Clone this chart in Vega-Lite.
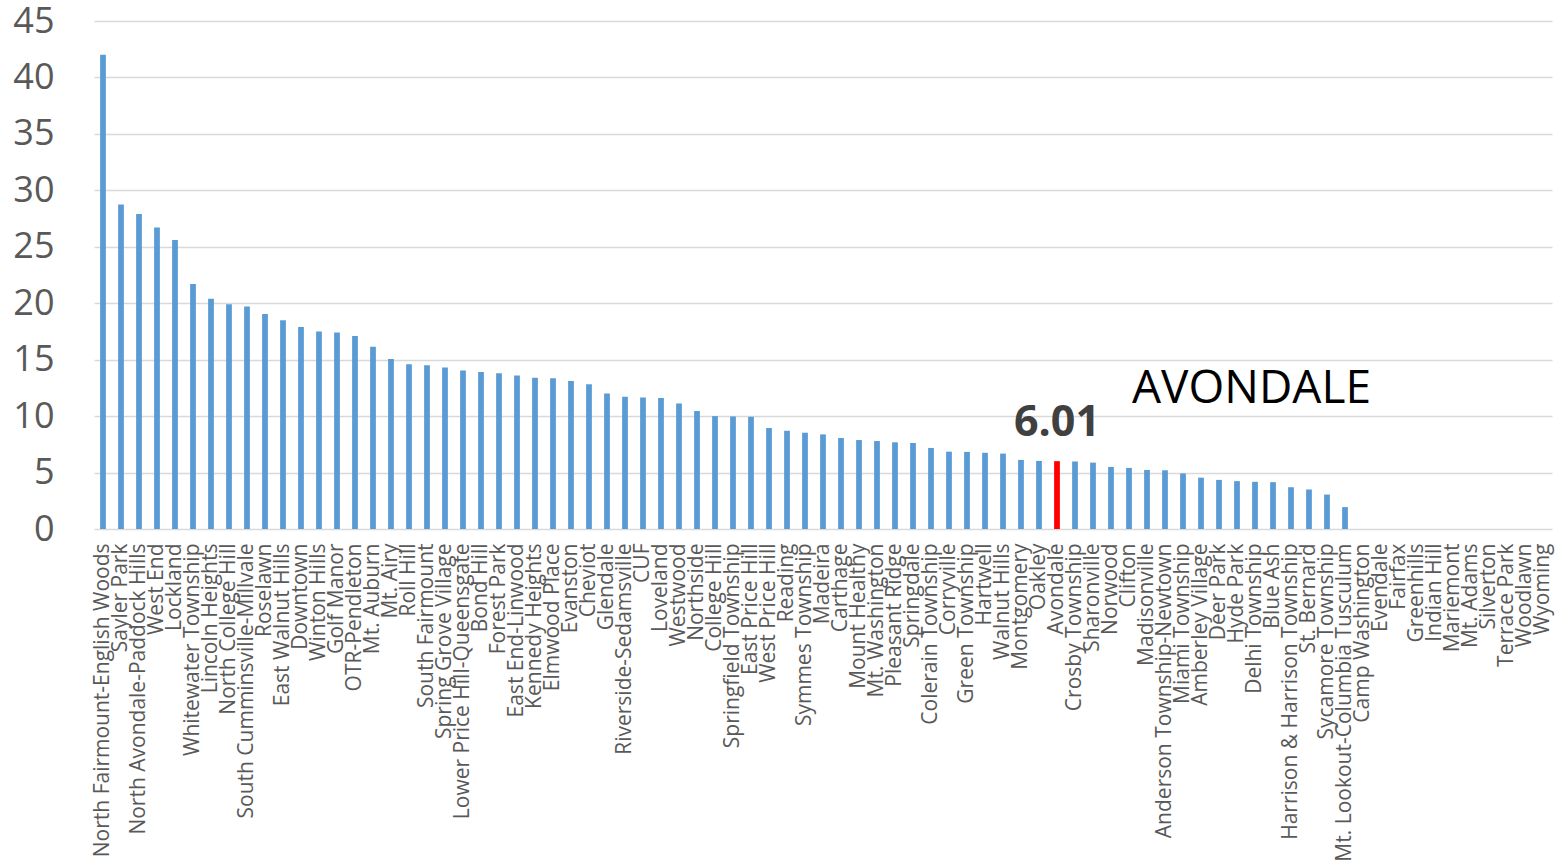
{
  "$schema": "https://vega.github.io/schema/vega-lite/v6.json",
  "width": 1458,
  "height": 508,
  "autosize": {"type": "none"},
  "padding": {"left": 94, "top": 21, "right": 16, "bottom": 336},
  "background": "white",
  "config": {
    "view": {"stroke": null},
    "font": "Open Sans"
  },
  "datasets": {
    "bars": [
      {"area": "North Fairmount-English Woods", "value": 42.0, "group": "other"},
      {"area": "Sayler Park", "value": 28.75, "group": "other"},
      {"area": "North Avondale-Paddock Hills", "value": 27.9, "group": "other"},
      {"area": "West End", "value": 26.7, "group": "other"},
      {"area": "Lockland", "value": 25.6, "group": "other"},
      {"area": "Whitewater Township", "value": 21.7, "group": "other"},
      {"area": "Lincoln Heights", "value": 20.4, "group": "other"},
      {"area": "North College Hill", "value": 19.9, "group": "other"},
      {"area": "South Cumminsville-Millvale", "value": 19.7, "group": "other"},
      {"area": "Roselawn", "value": 19.05, "group": "other"},
      {"area": "East Walnut Hills", "value": 18.5, "group": "other"},
      {"area": "Downtown", "value": 17.9, "group": "other"},
      {"area": "Winton Hills", "value": 17.5, "group": "other"},
      {"area": "Golf Manor", "value": 17.4, "group": "other"},
      {"area": "OTR-Pendleton", "value": 17.1, "group": "other"},
      {"area": "Mt. Auburn", "value": 16.15, "group": "other"},
      {"area": "Mt. Airy", "value": 15.05, "group": "other"},
      {"area": "Roll Hill", "value": 14.6, "group": "other"},
      {"area": "South Fairmount", "value": 14.5, "group": "other"},
      {"area": "Spring Grove Village", "value": 14.3, "group": "other"},
      {"area": "Lower Price Hill-Queensgate", "value": 14.05, "group": "other"},
      {"area": "Bond Hill", "value": 13.9, "group": "other"},
      {"area": "Forest Park", "value": 13.8, "group": "other"},
      {"area": "East End-Linwood", "value": 13.6, "group": "other"},
      {"area": "Kennedy Heights", "value": 13.4, "group": "other"},
      {"area": "Elmwood Place", "value": 13.35, "group": "other"},
      {"area": "Evanston", "value": 13.1, "group": "other"},
      {"area": "Cheviot", "value": 12.82, "group": "other"},
      {"area": "Glendale", "value": 12.0, "group": "other"},
      {"area": "Riverside-Sedamsville", "value": 11.72, "group": "other"},
      {"area": "CUF", "value": 11.65, "group": "other"},
      {"area": "Loveland", "value": 11.6, "group": "other"},
      {"area": "Westwood", "value": 11.12, "group": "other"},
      {"area": "Northside", "value": 10.45, "group": "other"},
      {"area": "College Hill", "value": 10.0, "group": "other"},
      {"area": "Springfield Township", "value": 9.97, "group": "other"},
      {"area": "East Price Hill", "value": 9.94, "group": "other"},
      {"area": "West Price Hill", "value": 8.95, "group": "other"},
      {"area": "Reading", "value": 8.7, "group": "other"},
      {"area": "Symmes Township", "value": 8.53, "group": "other"},
      {"area": "Madeira", "value": 8.38, "group": "other"},
      {"area": "Carthage", "value": 8.06, "group": "other"},
      {"area": "Mount Healthy", "value": 7.88, "group": "other"},
      {"area": "Mt. Washington", "value": 7.79, "group": "other"},
      {"area": "Pleasant Ridge", "value": 7.68, "group": "other"},
      {"area": "Springdale", "value": 7.62, "group": "other"},
      {"area": "Colerain Township", "value": 7.18, "group": "other"},
      {"area": "Corryville", "value": 6.85, "group": "other"},
      {"area": "Green Township", "value": 6.83, "group": "other"},
      {"area": "Hartwell", "value": 6.75, "group": "other"},
      {"area": "Walnut Hills", "value": 6.68, "group": "other"},
      {"area": "Montgomery", "value": 6.12, "group": "other"},
      {"area": "Oakley", "value": 6.03, "group": "other"},
      {"area": "Avondale", "value": 6.01, "group": "highlight"},
      {"area": "Crosby Township", "value": 5.98, "group": "other"},
      {"area": "Sharonville", "value": 5.88, "group": "other"},
      {"area": "Norwood", "value": 5.5, "group": "other"},
      {"area": "Clifton", "value": 5.41, "group": "other"},
      {"area": "Madisonville", "value": 5.23, "group": "other"},
      {"area": "Anderson Township-Newtown", "value": 5.2, "group": "other"},
      {"area": "Miami Township", "value": 4.92, "group": "other"},
      {"area": "Amberley Village", "value": 4.55, "group": "other"},
      {"area": "Deer Park", "value": 4.35, "group": "other"},
      {"area": "Hyde Park", "value": 4.24, "group": "other"},
      {"area": "Delhi Township", "value": 4.18, "group": "other"},
      {"area": "Blue Ash", "value": 4.15, "group": "other"},
      {"area": "Harrison & Harrison Township", "value": 3.7, "group": "other"},
      {"area": "St. Bernard", "value": 3.5, "group": "other"},
      {"area": "Sycamore Township", "value": 3.05, "group": "other"},
      {"area": "Mt. Lookout-Columbia Tusculum", "value": 1.94, "group": "other"},
      {"area": "Camp Washington", "value": 0, "group": "other"},
      {"area": "Evendale", "value": 0, "group": "other"},
      {"area": "Fairfax", "value": 0, "group": "other"},
      {"area": "Greenhills", "value": 0, "group": "other"},
      {"area": "Indian Hill", "value": 0, "group": "other"},
      {"area": "Mariemont", "value": 0, "group": "other"},
      {"area": "Mt. Adams", "value": 0, "group": "other"},
      {"area": "Silverton", "value": 0, "group": "other"},
      {"area": "Terrace Park", "value": 0, "group": "other"},
      {"area": "Woodlawn", "value": 0, "group": "other"},
      {"area": "Wyoming", "value": 0, "group": "other"}
    ],
    "notes": [
      {"area": "Avondale", "value": 6.01, "text": "6.01", "kind": "value"},
      {"area": "Clifton", "value": 11.2, "text": "AVONDALE", "kind": "name"}
    ]
  },
  "layer": [
    {
      "data": {"name": "bars"},
      "mark": {"type": "bar"},
      "encoding": {
        "x": {
          "field": "area",
          "type": "nominal",
          "sort": null,
          "scale": {"paddingInner": 0.68, "paddingOuter": 0.34},
          "axis": {
            "title": null,
            "labelAngle": -90,
            "labelAlign": "right",
            "labelBaseline": "middle",
            "labelFontSize": 21,
            "labelColor": "#595959",
            "labelFont": "Open Sans",
            "labelPadding": 14,
            "labelLimit": 500,
            "labelOverlap": false,
            "labelBound": false,
            "ticks": false,
            "domain": false,
            "grid": false
          }
        },
        "y": {
          "field": "value",
          "type": "quantitative",
          "scale": {"domain": [0, 45], "nice": false},
          "axis": {
            "title": null,
            "values": [0, 5, 10, 15, 20, 25, 30, 35, 40, 45],
            "labelFontSize": 36,
            "labelColor": "#595959",
            "labelFont": "Open Sans",
            "labelPadding": 40,
            "ticks": false,
            "domain": false,
            "grid": true,
            "gridColor": "#d9d9d9",
            "gridWidth": 1.5
          }
        },
        "color": {
          "field": "group",
          "type": "nominal",
          "scale": {"domain": ["other", "highlight"], "range": ["#5b9bd5", "#ff0000"]},
          "legend": null
        }
      }
    },
    {
      "data": {"name": "notes"},
      "transform": [{"filter": "datum.kind === 'value'"}],
      "mark": {"type": "text", "font": "Open Sans", "fontSize": 43, "fontWeight": "bold", "color": "#404040", "align": "center", "baseline": "alphabetic", "dy": -25},
      "encoding": {
        "x": {"field": "area", "type": "nominal", "sort": null},
        "y": {"field": "value", "type": "quantitative"},
        "text": {"field": "text"}
      }
    },
    {
      "data": {"name": "notes"},
      "transform": [{"filter": "datum.kind === 'name'"}],
      "mark": {"type": "text", "font": "Open Sans", "fontSize": 46, "color": "#000000", "align": "left", "baseline": "alphabetic", "dx": 3},
      "encoding": {
        "x": {"field": "area", "type": "nominal", "sort": null},
        "y": {"field": "value", "type": "quantitative"},
        "text": {"field": "text"}
      }
    }
  ]
}
